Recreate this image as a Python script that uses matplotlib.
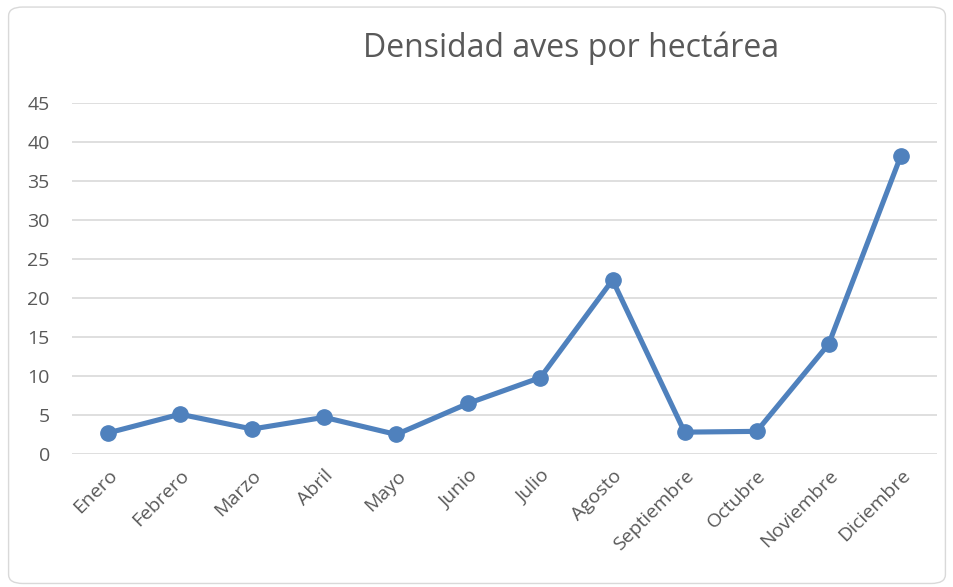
import matplotlib.pyplot as plt
from matplotlib.patches import FancyBboxPatch

# Densidad de aves por mes
meses = ['Enero', 'Febrero', 'Marzo', 'Abril', 'Mayo', 'Junio', 'Julio',
         'Agosto', 'Septiembre', 'Octubre', 'Noviembre', 'Diciembre']
densidad = [2.7, 5.1, 3.2, 4.7, 2.5, 6.5, 9.8, 22.3, 2.8, 2.9, 14.1, 38.2]
y_ticks = [0, 5, 10, 15, 20, 25, 30, 35, 40, 45]

plt.rcParams['font.family'] = ['Open Sans', 'DejaVu Sans']
texto = '#595959'

fig = plt.figure(figsize=(9.54, 5.87), dpi=100)

# marco redondeado del gráfico
marco = FancyBboxPatch((0.009, 0.006), 0.982, 0.982,
                       boxstyle='round,pad=0,rounding_size=0.015',
                       transform=fig.transFigure, facecolor='white',
                       edgecolor='#D9D9D9', linewidth=1.0, zorder=-1)
fig.patches.append(marco)

ax = fig.add_axes([0.0755, 0.2266, 0.9065, 0.598])
ax.set_facecolor('none')
ax.set_zorder(1)

x = list(range(len(meses)))
ax.plot(x, densidad, color='#4F81BD', linewidth=3.7, marker='o',
        markersize=11, solid_joinstyle='round', zorder=3)

ax.set_xlim(-0.5, len(meses) - 0.5)
ax.set_ylim(0, 45)
ax.set_yticks(y_ticks)
ax.yaxis.grid(True, color='#D9D9D9', linewidth=1.2)
ax.set_axisbelow(True)
for s in ax.spines.values():
    s.set_visible(False)
ax.tick_params(length=0, colors=texto, labelsize=14)
ax.tick_params(axis='y', pad=16)

ax.set_xticks(x)
ax.set_xticklabels(meses, rotation=45, ha='right', rotation_mode='anchor')
ax.tick_params(axis='x', pad=9)

fig.text(0.599, 0.918, 'Densidad aves por hectárea', ha='center', va='center',
         fontsize=23, color=texto)

fig.savefig('out.png', dpi=100)
